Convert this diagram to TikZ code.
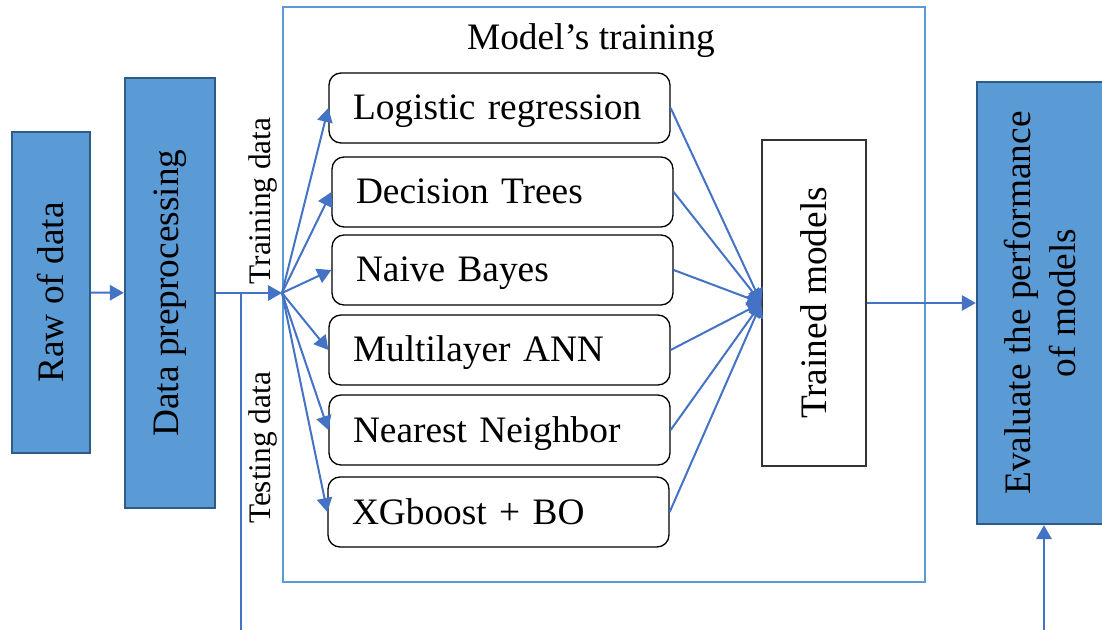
\documentclass[tikz,border=0pt]{standalone}
\usepackage{graphicx}
\usepackage{fontspec}
\setmainfont{Liberation Serif}
\usetikzlibrary{arrows.meta}
\definecolor{stagefill}{HTML}{5B9BD5}
\definecolor{stageedge}{HTML}{2F5B88}
\definecolor{linkblue}{HTML}{4472C4}
\definecolor{frameblue}{HTML}{5B9BD5}

\begin{document}
\begin{tikzpicture}[x=0.75pt,y=-0.75pt,
  stage/.style={draw=stageedge,line width=1.75pt,fill=stagefill,inner sep=0pt,font=\fontsize{28}{34}\selectfont},
  model/.style={draw=black,line width=1pt,rounded corners=9pt,minimum height=52.5pt,text width=219.75pt,text height=24pt,text depth=6pt,inner xsep=18pt,inner ysep=0pt,align=left,font=\fontsize{28}{34}\selectfont},
  result/.style={draw=black!80,line width=1pt,inner sep=0pt,font=\fontsize{28}{34}\selectfont},
  flowlabel/.style={inner sep=0pt,font=\fontsize{23.5}{28}\selectfont},
  link/.style={draw=linkblue,line width=1.5pt,-{Triangle[length=10.5pt,width=11.5pt]}}]
\useasboundingbox (0,0) rectangle (1102,630);
\clip (0,0) rectangle (1102,630);
\draw[frameblue,line width=1.5pt] (283,7) rectangle (925,582);
\node[anchor=base,inner sep=0pt,font=\fontsize{28}{34}\selectfont] (title) at (591,50) {Model’s training};
\node[stage,minimum width=58.5pt,minimum height=240.75pt] (raw) at (51,292.5) {\rotatebox{90}{Raw of data}};
\node[stage,minimum width=67.5pt,minimum height=322.5pt] (prep) at (170,293) {\rotatebox{90}{Data preprocessing}};
\node[stage,minimum width=100.5pt,minimum height=331.5pt] (eval) at (1044,303) {\rotatebox{90}{\begin{tabular}{@{}c@{}}Evaluate the performance\\of models\end{tabular}}};
\node[model] (logit) at (499.5,108) {Logistic regression};
\node[model] (dtree) at (502.5,192) {Decision Trees};
\node[model] (nbayes) at (502.5,270) {Naive Bayes};
\node[model] (mlann) at (499.5,350) {Multilayer ANN};
\node[model] (knn) at (499.5,430) {Nearest Neighbor};
\node[model] (xgbo) at (498.5,512) {XGboost + BO};
\node[result,minimum width=78pt,minimum height=244.5pt] (trained) at (814,303) {\rotatebox{90}{Trained models}};
\node[flowlabel] (trainlab) at (263,201) {\rotatebox{90}{Training data}};
\node[flowlabel] (testlab) at (263,448) {\rotatebox{90}{Testing data}};
\coordinate (hub) at (282,293);
\coordinate (split) at (241,293);
\coordinate (testend) at (241,630);
\coordinate (evalfeed) at (1044,630);
\draw[link] (raw) -- (prep);
\draw[link] (prep) -- (hub);
\draw[linkblue,line width=0.9pt] (split) -- (testend);
\draw[link] (hub) -- (logit.west);
\draw[link] (hub) -- (dtree.west);
\draw[link] (hub) -- (nbayes.west);
\draw[link] (hub) -- (mlann.west);
\draw[link] (hub) -- (knn.west);
\draw[link] (hub) -- (xgbo.west);
\draw[link] (logit.east) -- (trained.west);
\draw[link] (dtree.east) -- (trained.west);
\draw[link] (nbayes.east) -- (trained.west);
\draw[link] (mlann.east) -- (trained.west);
\draw[link] (knn.east) -- (trained.west);
\draw[link] (xgbo.east) -- (trained.west);
\draw[link] (trained) -- (eval);
\draw[link] (evalfeed) -- (eval);
\end{tikzpicture}
\end{document}
